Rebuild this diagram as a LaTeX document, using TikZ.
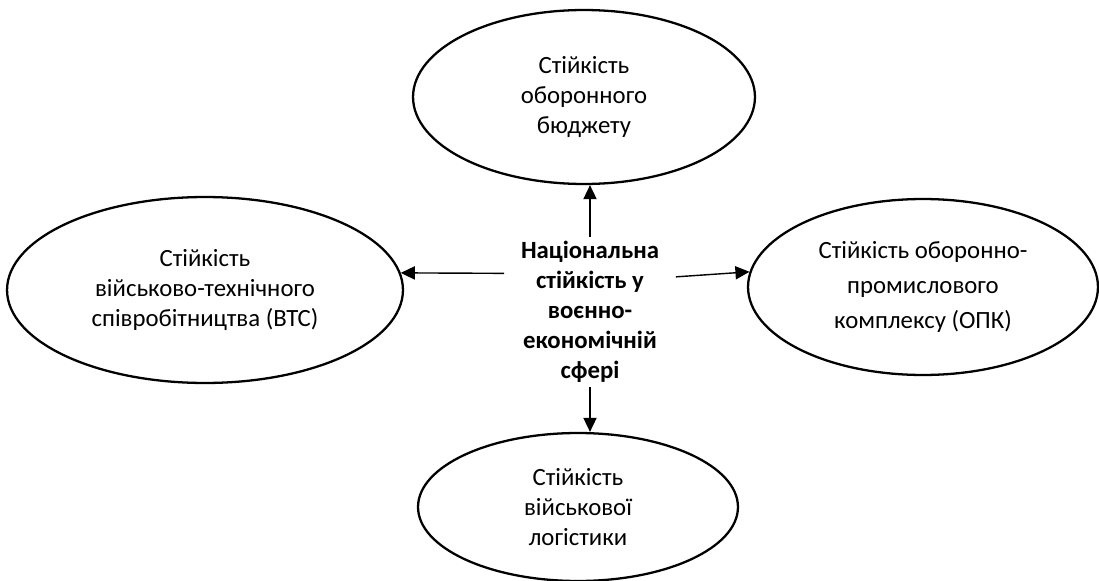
\documentclass[tikz,border=0pt]{standalone}
\usepackage{fontspec}
\setmainfont{Carlito}
\usetikzlibrary{shapes.geometric, arrows.meta}
\tikzset{
	x=0.02cm, y=-0.02cm,
	sphere/.style={ellipse, draw=black, line width=1.3pt, inner sep=0pt, align=center,
		font=\fontsize{14.1}{17}\selectfont},
	core/.style={rectangle, inner sep=0pt, minimum width=3.42cm, minimum height=3cm, align=center,
		font=\fontsize{14.1}{17}\selectfont\bfseries},
	arrow/.style={line width=0.8pt, -{Triangle[length=8pt, width=7.5pt]}}
}

\begin{document}
\begin{tikzpicture}
			\useasboundingbox (0,0) rectangle (1099,581);
			% Nodes
			\node (C) [core] at (590,312) {Національна\\стійкість у\\воєнно-\\економічній\\сфері};
			\node (T) [sphere, minimum width=6.84cm, minimum height=3.48cm] at (584,97) {Стійкість\\оборонного\\бюджету};
			\node (L) [sphere, minimum width=7.92cm, minimum height=3.72cm] at (205,290) {Стійкість\\військово-технічного\\співробітництва (ВТС)};
			\node (R) [sphere, minimum width=7.0cm, minimum height=3.52cm] at (923,287) {Стійкість оборонно-\\[1mm]промислового\\[1mm]комплексу (ОПК)};
			\node (B) [sphere, minimum width=6.4cm, minimum height=2.96cm] at (578,507) {Стійкість\\військової\\логістики};
			
			% Arrows
			\draw [arrow] (C.north) -- (C.north |- T.south);
			\draw [arrow] ([yshift=22pt]C.west) -- (L.5);
			\draw [arrow] ([yshift=20pt]C.east) -- (R.175);
			\draw [arrow] (C.south) -- (C.south |- B.north);
		\end{tikzpicture}
\end{document}
